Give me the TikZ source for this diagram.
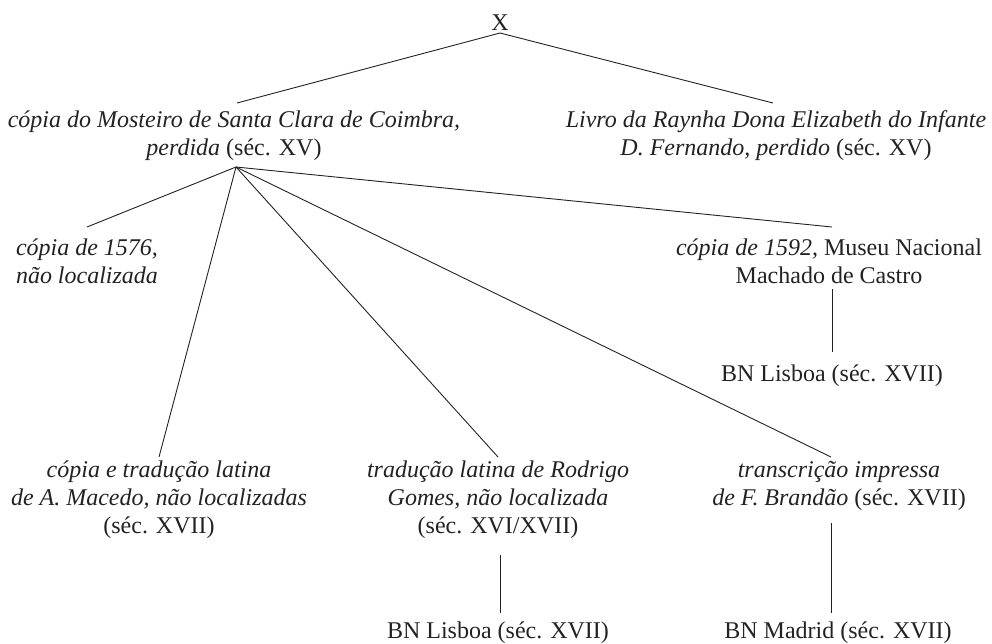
\documentclass[tikz,border=0pt]{standalone}
\usepackage{fontspec}
\setmainfont{Liberation Serif}
\definecolor{ink}{RGB}{34,34,34}
\newcommand{\ls}{\strut}
\begin{document}
\begin{tikzpicture}[x=1pt,y=-1pt,
  every node/.style={inner sep=0pt, outer sep=0pt, align=center, anchor=north, text=ink,
    font=\fontsize{24}{28}\selectfont},
  edge/.style={draw=ink, line width=0.9pt}]
\useasboundingbox (0,0) rectangle (992,643);
% nodes (north anchor = first baseline - 19.6)
\node (X)   at (500,10.4)  {\ls X};
\node (TL)  at (234,107.4) {\ls\textit{cópia do Mosteiro de Santa Clara de Coimbra,}\\\ls\textit{perdida} (séc. XV)};
\node (TR)  at (776,107.4) {\ls\textit{Livro da Raynha Dona Elizabeth do Infante}\\\ls\textit{D. Fernando, perdido} (séc. XV)};
\node (A)   at (87,235.4)  {\ls\textit{cópia de 1576,}\\\ls\textit{não localizada}};
\node (B)   at (829,235.4) {\ls\textit{cópia de 1592,} Museu Nacional\\\ls Machado de Castro};
\node (BN1) at (832,361.4) {\ls BN Lisboa (séc. XVII)};
\node (M)   at (159,457.4) {\ls\textit{cópia e tradução latina}\\\ls\textit{de A. Macedo, não localizadas}\\\ls(séc. XVII)};
\node (R)   at (498,457.4) {\ls\textit{tradução latina de Rodrigo}\\\ls\textit{Gomes, não localizada}\\\ls(séc. XVI/XVII)};
\node (BN2) at (498,618.4) {\ls BN Lisboa (séc. XVII)};
\node (T)   at (839,457.4) {\ls\textit{transcrição impressa}\\\ls\textit{de F. Brandão} (séc. XVII)};
\node (BNM) at (838,618.4) {\ls BN Madrid (séc. XVII)};
% connectors
\draw[edge] ([yshift=5.4pt]X.south) -- ([shift={(3pt,4.4pt)}]TL.north);
\draw[edge] ([yshift=5.4pt]X.south) -- ([shift={(-3pt,4.4pt)}]TR.north);
\draw[edge] ([shift={(2pt,-3.6pt)}]TL.south) -- ([yshift=8.4pt]A.north);
\draw[edge] ([shift={(2pt,-3.6pt)}]TL.south) -- ([yshift=0.4pt]M.north);
\draw[edge] ([shift={(2pt,-3.6pt)}]TL.south) -- ([yshift=0.4pt]R.north);
\draw[edge] ([shift={(2pt,-3.6pt)}]TL.south) -- ([shift={(-8pt,0.4pt)}]T.north);
\draw[edge] ([shift={(2pt,-3.6pt)}]TL.south) -- ([shift={(3pt,8.4pt)}]B.north);
\draw[edge] ([shift={(3pt,2.4pt)}]B.south) -- ([yshift=9.4pt]BN1.north);
\draw[edge] ([shift={(2pt,-13.6pt)}]R.south) -- ([shift={(2pt,5.4pt)}]BN2.north);
\draw[edge] ([shift={(-8pt,-9.6pt)}]T.south) -- ([shift={(-7pt,5.4pt)}]BNM.north);
\end{tikzpicture}
\end{document}
